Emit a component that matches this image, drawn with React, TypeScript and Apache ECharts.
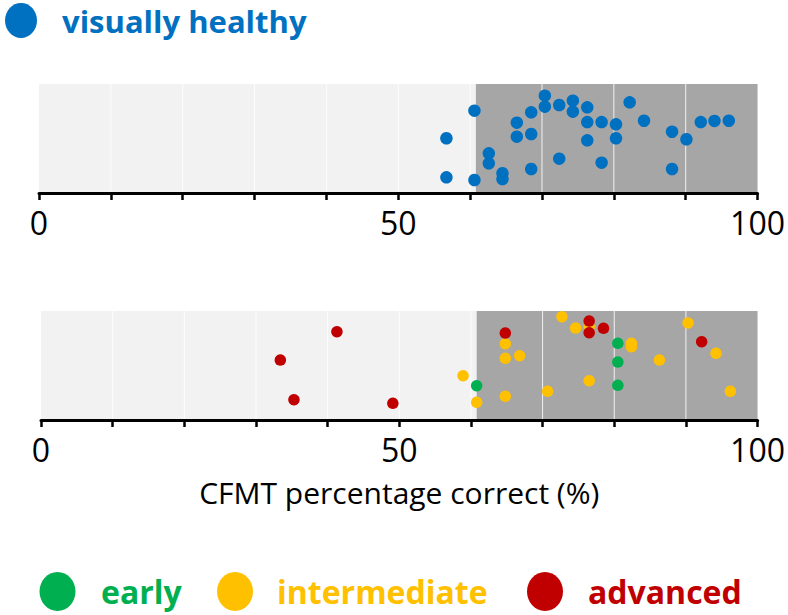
import React, { useEffect, useRef } from "react";
import * as echarts from "echarts";

// ---- data ----
const xTicks = [0, 10, 20, 30, 40, 50, 60, 70, 80, 90, 100];
const labelTicks = [0, 50, 100];
const gridValues = [10, 20, 30, 40, 50, 60, 70, 80, 90];
const threshold = 60.8;

const healthyX = [56.7, 56.7, 60.6, 60.6, 62.6, 62.6, 64.5, 64.5, 66.5, 66.5, 68.5, 68.5, 68.5, 70.4, 70.4, 72.4, 72.4, 74.3, 74.3, 76.3, 76.3, 76.3, 78.3, 78.3, 80.3, 80.3, 82.2, 84.2, 88.1, 88.1, 90.1, 92.1, 94.0, 96.0];
const healthyY = [50.2, 14.4, 75.5, 11.9, 36.4, 27.2, 18.1, 12.8, 64.5, 51.7, 74.0, 54.1, 22.0, 89.3, 79.2, 80.7, 31.5, 84.7, 74.6, 78.6, 65.1, 48.3, 65.1, 27.8, 63.0, 50.2, 83.2, 66.3, 56.2, 22.0, 49.3, 65.1, 66.1, 66.3];

const earlyX = [60.8, 80.5, 80.5, 80.5];
const earlyY = [31.5, 70.4, 53.2, 31.8];

const intermediateX = [72.7, 74.6, 76.5, 64.8, 64.8, 66.8, 58.9, 60.8, 64.8, 70.7, 76.5, 82.4, 82.4, 86.3, 90.3, 94.2, 96.2];
const intermediateY = [94.8, 84.4, 85.6, 70.0, 56.6, 59.0, 40.6, 16.2, 21.7, 26.3, 36.1, 70.4, 67.2, 55.0, 89.0, 61.2, 26.3];

const advancedX = [41.3, 33.4, 35.3, 49.1, 76.5, 76.5, 78.5, 64.8, 92.2];
const advancedY = [81.0, 55.0, 18.6, 15.3, 90.8, 80.1, 84.1, 79.8, 71.8];

const axisTitle = "CFMT percentage correct (%)";

const BLUE = "#0070C0";
const GREEN = "#00B050";
const YELLOW = "#FFC000";
const RED = "#C00000";
const LIGHT = "#F2F2F2";
const DARK = "#A6A6A6";
const FONT = "'Open Sans', sans-serif";

const zip = (xs: number[], ys: number[]) => xs.map((x, i) => [x, ys[i]]);

function xAxisFor(gridIndex: number, withName: boolean) {
  return {
    type: "value",
    gridIndex,
    min: 0,
    max: 100,
    interval: 10,
    z: 10,
    axisLine: { show: true, lineStyle: { color: "#000", width: 3 } },
    axisTick: { show: true, length: 7, lineStyle: { color: "#000", width: 2.5 } },
    splitLine: { show: false },
    axisLabel: {
      margin: 13,
      fontSize: 32,
      fontFamily: FONT,
      color: "#000",
      formatter: (v: number) => (labelTicks.includes(v) ? String(v) : ""),
    },
    name: withName ? axisTitle : "",
    nameLocation: "middle",
    nameGap: 57,
    nameTextStyle: { fontSize: 30, fontFamily: FONT, color: "#000" },
  };
}

function bgSeries(idx: number) {
  const colors = [LIGHT, DARK];
  return {
    type: "custom",
    xAxisIndex: idx,
    yAxisIndex: idx,
    z: 1,
    silent: true,
    data: [[0, threshold], [threshold, xTicks[xTicks.length - 1]]],
    renderItem: (params: any, api: any) => {
      const p0 = api.coord([api.value(0), 100]);
      const p1 = api.coord([api.value(1), 0]);
      return {
        type: "rect",
        shape: { x: p0[0], y: p0[1], width: p1[0] - p0[0], height: p1[1] - p0[1] },
        style: { fill: colors[params.dataIndex] },
      };
    },
  };
}

function gridLineSeries(idx: number) {
  return {
    type: "custom",
    xAxisIndex: idx,
    yAxisIndex: idx,
    z: 2,
    silent: true,
    data: gridValues.map((v) => [v, 0]),
    renderItem: (params: any, api: any) => {
      const p0 = api.coord([api.value(0), 100]);
      const p1 = api.coord([api.value(0), 0]);
      return {
        type: "line",
        shape: { x1: p0[0], y1: p0[1], x2: p1[0], y2: p1[1] },
        style: { stroke: "#FFFFFF", lineWidth: 1, opacity: 0.85 },
      };
    },
  };
}

function scatter(name: string, xs: number[], ys: number[], color: string, idx: number, size: number, z: number) {
  return {
    type: "scatter",
    name,
    xAxisIndex: idx,
    yAxisIndex: idx,
    z,
    symbolSize: size,
    itemStyle: { color, opacity: 1 },
    data: zip(xs, ys),
  };
}

export default function App() {
  const ref = useRef<HTMLDivElement>(null);
  useEffect(() => {
    if (!ref.current) return;
    const chart = echarts.init(ref.current, null, { renderer: "svg" });
    chart.setOption({
      animation: false,
      backgroundColor: "#FFFFFF",
      grid: [
        { left: 39, top: 84, width: 721, height: 109 },
        { left: 41, top: 311, width: 722, height: 109 },
      ],
      xAxis: [xAxisFor(0, false), xAxisFor(1, true)],
      yAxis: [0, 1].map((i) => ({
        type: "value",
        gridIndex: i,
        min: 0,
        max: 100,
        show: false,
        splitLine: { show: false },
      })),
      series: [
        bgSeries(0),
        bgSeries(1),
        gridLineSeries(0),
        gridLineSeries(1),
        scatter("visually healthy", healthyX, healthyY, BLUE, 0, 12.5, 5),
        scatter("intermediate", intermediateX, intermediateY, YELLOW, 1, 11.5, 5),
        scatter("early", earlyX, earlyY, GREEN, 1, 11.5, 6),
        scatter("advanced", advancedX, advancedY, RED, 1, 11.5, 7),
      ],
      graphic: [
        { type: "ellipse", shape: { cx: 21, cy: 20.5, rx: 16, ry: 17.5 }, style: { fill: BLUE } },
        {
          type: "text",
          x: 62,
          y: 21,
          style: { text: "visually healthy", fill: BLUE, font: `bold 31px ${FONT}`, verticalAlign: "middle" },
        },
        { type: "ellipse", shape: { cx: 57.5, cy: 591.5, rx: 18, ry: 19.5 }, style: { fill: GREEN } },
        {
          type: "text",
          x: 101,
          y: 591,
          style: { text: "early", fill: GREEN, font: `bold 32px ${FONT}`, verticalAlign: "middle" },
        },
        { type: "ellipse", shape: { cx: 235, cy: 591.5, rx: 18, ry: 19.5 }, style: { fill: YELLOW } },
        {
          type: "text",
          x: 277,
          y: 591,
          style: { text: "intermediate", fill: YELLOW, font: `bold 32px ${FONT}`, verticalAlign: "middle" },
        },
        { type: "ellipse", shape: { cx: 545, cy: 591.5, rx: 18, ry: 19.5 }, style: { fill: RED } },
        {
          type: "text",
          x: 588,
          y: 591,
          style: { text: "advanced", fill: RED, font: `bold 32px ${FONT}`, verticalAlign: "middle" },
        },
      ],
    });
    return () => chart.dispose();
  }, []);
  return <div ref={ref} style={{ position: "absolute", left: 0, top: 0, width: 788, height: 615 }} />;
}
